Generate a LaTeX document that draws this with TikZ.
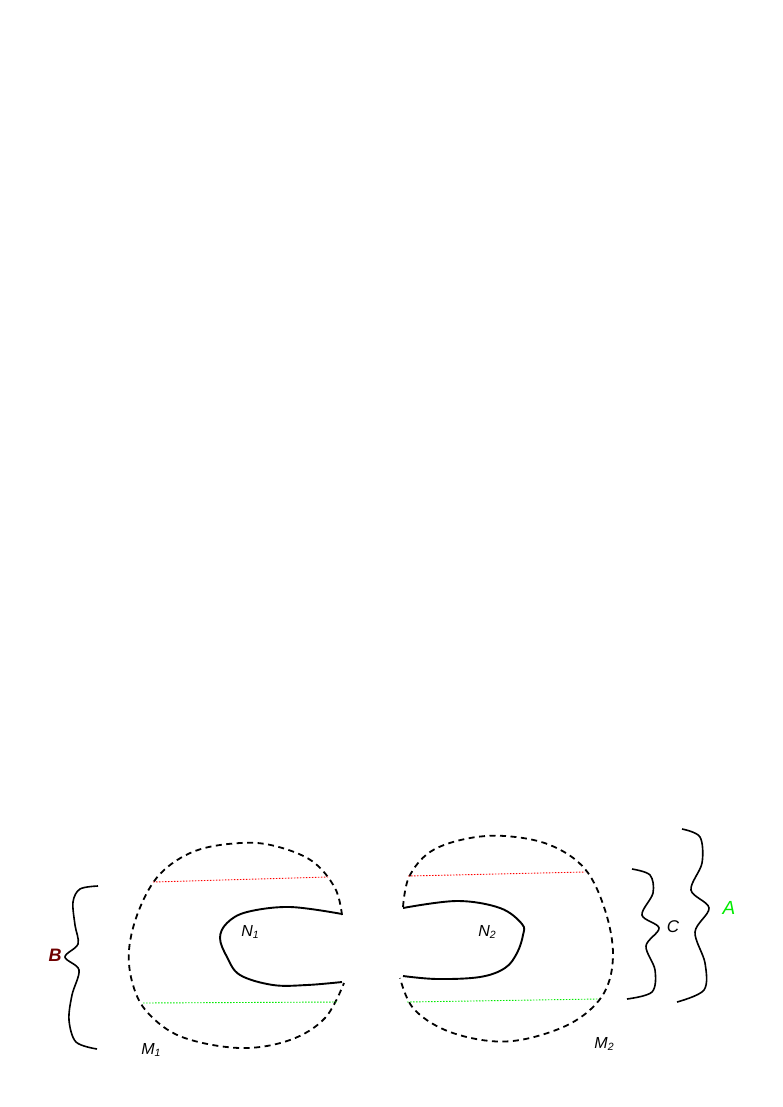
\documentclass[tikz,border=0pt]{standalone}
\usepackage{fontspec}
\newfontfamily\arial{Liberation Sans}
\definecolor{dred}{RGB}{110,0,0}
\definecolor{lgreen}{RGB}{0,235,0}
\newcommand\mysub[1]{\raisebox{-0.35ex}{\fontsize{10.5}{10.5}\selectfont #1}}
\tikzset{
  outer/.style={line width=1.8pt, dash pattern=on 6pt off 4.5pt},
  inner/.style={line width=1.9pt},
  chord/.style={line width=0.9pt, dash pattern=on 1.5pt off 1.5pt},
  bracecurve/.style={line width=1.6pt},
  lbl/.style={font=\arial\itshape\fontsize{16}{16}\selectfont, inner sep=0pt}
}
\begin{document}
\begin{tikzpicture}[x=1pt,y=-1pt]
\useasboundingbox (0,0) rectangle (782,1107);
% M1 dashed
\draw[outer] plot[smooth, tension=0.6] coordinates {(342,915) (335,888) (312,861) (275,846) (240,843) (195,851) (160,874) (139,910) (129,950) (133,985) (148,1013) (182,1037) (240,1048) (290,1040) (325,1018) (344,983)};
% N1
\draw[inner] plot[smooth, tension=0.6] coordinates {(342,914) (290,907) (247,912) (227,923) (220,938) (227,957) (240,975) (273,985) (307,985) (342,982)};
% chords M1
\draw[chord, red] (153,882) -- (328,877);
\draw[chord, lgreen] (143,1003) -- (338,1002);
% M2 dashed
\draw[outer] plot[smooth, tension=0.6] coordinates {(403,907) (409,877) (430,852) (465,839) (505,836) (550,845) (585,869) (605,910) (613,955) (604,993) (575,1021) (530,1038) (490,1041) (445,1030) (413,1008) (400,978)};
% N2
\draw[inner] plot[smooth, tension=0.6] coordinates {(403,908) (457,901) (500,908) (522,924) (523,935) (517,953) (505,968) (480,977) (437,979) (403,976)};
% chords M2
\draw[chord, red] (408,876) -- (585,872);
\draw[chord, lgreen] (407,1002) -- (598,999);
% brace B
\draw[bracecurve] plot[smooth, tension=0.55] coordinates {(98,886) (80,889) (73,902) (75,925) (78,944) (65,957) (79,970) (72,995) (69,1020) (76,1042) (97,1049)};
% brace C
\draw[bracecurve] plot[smooth, tension=0.55] coordinates {(632,869) (650,875) (653,893) (642,915) (659,928) (646,946) (655,970) (652,992) (627,999)};
% brace A
\draw[bracecurve] plot[smooth, tension=0.55] coordinates {(682,829) (700,837) (702,863) (691,890) (709,908) (695,932) (705,963) (704,990) (677,1002)};
% labels
\node[lbl] (n1) at (250,932) {N\mysub{1}};
\node[lbl] (n2) at (487,932) {N\mysub{2}};
\node[lbl] (m1) at (151,1050) {M\mysub{\itshape 1}};
\node[lbl] (m2) at (604,1044) {M\mysub{2}};
\node[lbl, text=dred, font=\arial\itshape\bfseries\fontsize{18}{18}\selectfont] (b) at (55,955) {B};
\node[lbl, font=\arial\itshape\fontsize{17}{17}\selectfont] (c) at (673,927) {C};
\node[lbl, text=lgreen, font=\arial\itshape\fontsize{19}{19}\selectfont] (a) at (729,908) {A};
\end{tikzpicture}
\end{document}
